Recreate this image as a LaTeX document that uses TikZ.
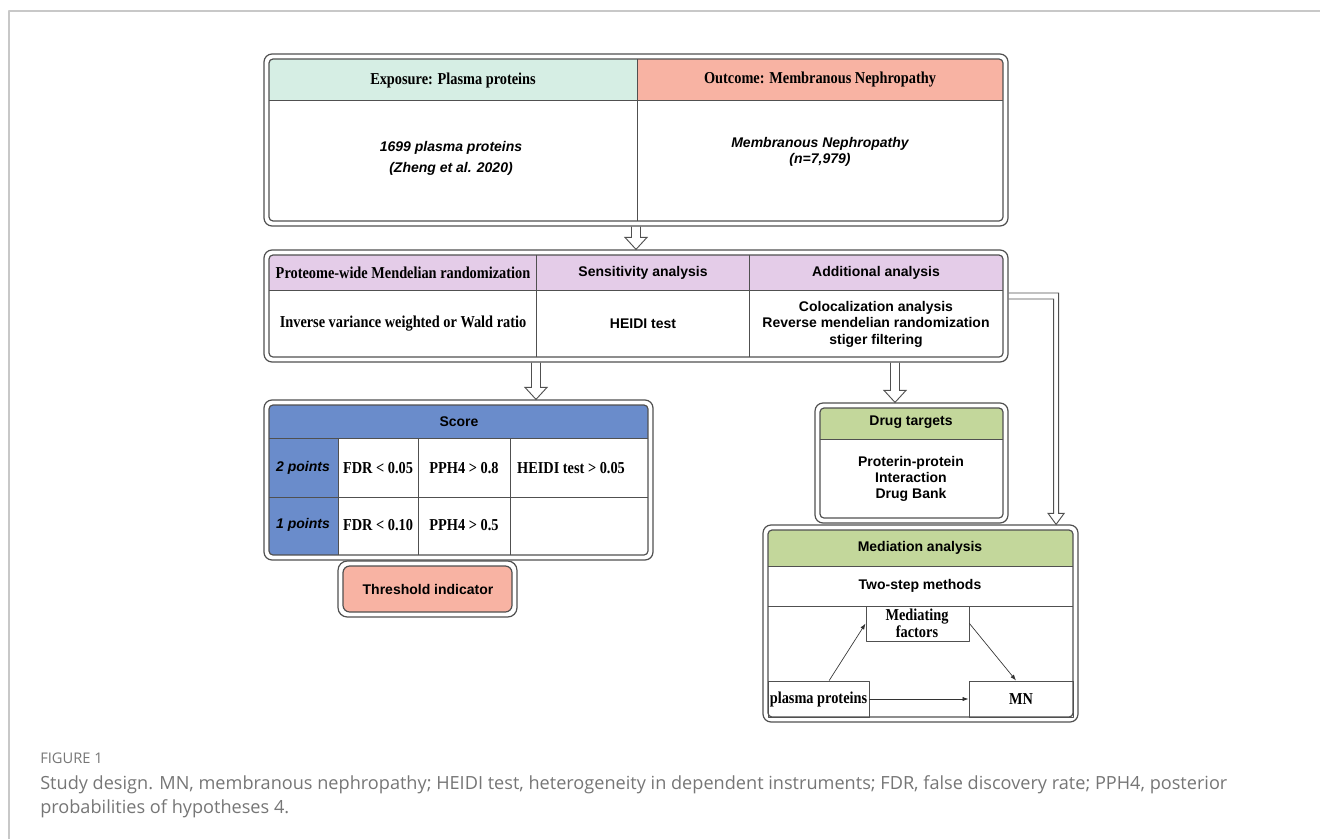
\documentclass[tikz,border=0pt]{standalone}
\usepackage{fontspec}
\setmainfont{Liberation Serif}
\setsansfont{Liberation Sans}
\newfontfamily\narrowserif[FakeStretch=0.86]{Liberation Serif}
\newfontfamily\capfont{Open Sans}
\usetikzlibrary{fit,calc,arrows.meta}
\definecolor{mint}{HTML}{D6EEE4}
\definecolor{salmon}{HTML}{F8B3A3}
\definecolor{lilac}{HTML}{E4CCE8}
\definecolor{scoreblue}{HTML}{6A8CCB}
\definecolor{olive}{HTML}{C3D79B}
\definecolor{boxline}{HTML}{505050}
\definecolor{framegrey}{HTML}{C8C8C8}
\definecolor{captext}{HTML}{767676}
\begin{document}
\begin{tikzpicture}[x=0.75pt,y=-0.75pt,>=latex,line join=bevel,
  outerbox/.style={draw=boxline,line width=0.9pt,rounded corners=6pt,inner sep=0pt},
  innerbox/.style={draw=boxline,line width=0.9pt,rounded corners=3pt,inner sep=0pt},
  grid/.style={draw=boxline,line width=0.7pt},
  plainbox/.style={draw=boxline,line width=0.7pt,inner sep=0pt},
  seriftext/.style={font=\fontsize{12.5}{14.5}\narrowserif\bfseries,align=center},
  sanstext/.style={font=\fontsize{10.5}{12.4}\selectfont\sffamily\bfseries,align=center},
  sansital/.style={font=\fontsize{10.5}{12.4}\selectfont\sffamily\bfseries\itshape,align=center},
  hollow/.style={draw=boxline,line width=0.7pt,line join=miter},
  thinarrow/.style={draw=black!80,line width=0.5pt,-{Latex[length=4.5pt,width=3.2pt]}},
]
\useasboundingbox (0,0) rectangle (1320,839);
\draw[framegrey,line width=0.9pt] (9,839) -- (9,11) -- (1320,11);
%% exposure / outcome
\begin{scope}
  \clip[rounded corners=3pt] (269,59) rectangle (1003,221);
  \fill[mint] (269,59) rectangle (637,100);
  \fill[salmon] (637,59) rectangle (1003,100);
\end{scope}
\node (top_out) [outerbox,fit={(264,54) (1008,226)}] {};
\node (top_in) [innerbox,fit={(269,59) (1003,221)}] {};
\draw[grid] (269,100) -- (1003,100) (637,59) -- (637,221);
\node (expo_head) at (453,80) [seriftext] {Exposure: Plasma proteins};
\node (outc_head) at (820,80) [seriftext] {Outcome: Membranous Nephropathy};
\node (expo_body) at (451,158) [sansital,font=\fontsize{10.5}{15.7}\selectfont\sffamily\bfseries\itshape] {1699 plasma proteins\\(Zheng et al. 2020)};
\node (outc_body) at (820,152) [sansital] {Membranous Nephropathy\\(n=7,979)};
%% methods
\begin{scope}
  \clip[rounded corners=3pt] (269,255) rectangle (1003,357);
  \fill[lilac] (269,255) rectangle (1003,290);
\end{scope}
\node (mid_out) [outerbox,fit={(264,250) (1008,362)}] {};
\node (mid_in) [innerbox,fit={(269,255) (1003,357)}] {};
\draw[grid] (269,290) -- (1003,290) (536,255) -- (536,357) (749,255) -- (749,357);
\node (mr_head) at (403,273) [seriftext] {Proteome-wide Mendelian randomization};
\node (sens_head) at (643,273) [sanstext] {Sensitivity analysis};
\node (add_head) at (876,273) [sanstext] {Additional analysis};
\node (mr_body) at (403,324) [seriftext] {Inverse variance weighted or Wald ratio};
\node (sens_body) at (643,324) [sanstext] {HEIDI test};
\node (add_body) at (876,324) [sanstext] {Colocalization analysis\\Reverse mendelian randomization\\stiger filtering};
%% score
\begin{scope}
  \clip[rounded corners=3pt] (269,405) rectangle (648,555);
  \fill[scoreblue] (269,405) rectangle (648,438);
  \fill[scoreblue] (269,438) rectangle (338,555);
\end{scope}
\node (score_out) [outerbox,fit={(264,400) (653,560)}] {};
\node (score_in) [innerbox,fit={(269,405) (648,555)}] {};
\draw[grid] (269,438) -- (648,438) (269,497) -- (648,497)
  (338,438) -- (338,555) (418,438) -- (418,555) (510,438) -- (510,555);
\node (score_head) at (459,422) [sanstext] {Score};
\node (two_pts) at (303,468) [sansital] {2 points};
\node (one_pts) at (303,525) [sansital] {1 points};
\node (fdr_two) at (378,468) [seriftext] {FDR < 0.05};
\node (pph_two) at (464,468) [seriftext] {PPH4 > 0.8};
\node (heidi_two) at (571,468) [seriftext] {HEIDI test > 0.05};
\node (fdr_one) at (378,525) [seriftext] {FDR < 0.10};
\node (pph_one) at (464,525) [seriftext] {PPH4 > 0.5};
%% threshold
\node (thr_out) [outerbox,rounded corners=7pt,fit={(338,561) (517,617)}] {};
\node (thr_in) [innerbox,rounded corners=5pt,fill=salmon,fit={(343,566) (512,612)}] {};
\node (thr_text) at (428,589) [sanstext] {Threshold indicator};
%% drug targets
\begin{scope}
  \clip[rounded corners=3pt] (820,408) rectangle (1003,518);
  \fill[olive] (820,408) rectangle (1003,439);
\end{scope}
\node (drug_out) [outerbox,fit={(815,403) (1008,523)}] {};
\node (drug_in) [innerbox,fit={(820,408) (1003,518)}] {};
\draw[grid] (820,439) -- (1003,439);
\node (drug_head) at (911,422) [sanstext] {Drug targets};
\node (drug_body) at (911,479) [sanstext,font=\fontsize{10.5}{12}\selectfont\sffamily\bfseries] {Proterin-protein\\Interaction\\Drug Bank};
%% mediation
\begin{scope}
  \clip[rounded corners=3pt] (768,530) rectangle (1073,717);
  \fill[olive] (768,530) rectangle (1073,566);
\end{scope}
\node (med_out) [outerbox,fit={(763,525) (1078,722)}] {};
\node (med_in) [innerbox,fit={(768,530) (1073,717)}] {};
\draw[grid] (768,566) -- (1073,566) (768,606) -- (1073,606);
\node (med_head) at (920,548) [sanstext] {Mediation analysis};
\node (two_step) at (920,586) [sanstext] {Two-step methods};
\node (mf_box) [plainbox,fit={(866,606) (969,641)}] {};
\node (mf_text) at (917,623) [seriftext,font=\fontsize{12.5}{13}\narrowserif\bfseries] {Mediating\\factors};
\node (pp_box) [plainbox,fit={(768,681) (869,717)}] {};
\node (pp_text) at (pp_box.center) [seriftext] {plasma proteins};
\node (mn_box) [plainbox,fit={(969,681) (1073,717)}] {};
\node (mn_text) at (mn_box.center) [seriftext] {MN};
\draw[thinarrow] (pp_box.60) -- (mf_box.west);
\draw[thinarrow] (mf_box.east) -- (mn_box.105);
\draw[thinarrow] (pp_box.east) -- (mn_box.west);
%% hollow arrows
\coordinate (a1s) at (top_out.south);
\coordinate (a1t) at (mid_out.north);
\coordinate (a2s) at ($(mid_out.south)+(-100,0)$);
\coordinate (a2t) at (a2s |- score_out.north);
\coordinate (a3s) at ($(mid_out.south)+(259,0)$);
\coordinate (a3t) at (a3s |- drug_out.north);
\foreach \s/\t in {a1s/a1t,a2s/a2t,a3s/a3t}
  \draw[hollow] ($(\s)+(-4.5,0)$) -- ($(\t)+(-4.5,-12)$) -- ($(\t)+(-11,-12)$) -- (\t)
    -- ($(\t)+(11,-12)$) -- ($(\t)+(4.5,-12)$) -- ($(\s)+(4.5,0)$);
\coordinate (a4t) at ($(med_out.north east)+(-22.5,0)$);
\draw[hollow] ($(mid_out.east)+(0,-13)$) -| ($(a4t)+(2.5,-11)$) -- ($(a4t)+(8,-11)$) -- (a4t)
  -- ($(a4t)+(-8,-11)$) -- ($(a4t)+(-2.5,-11)$) |- ($(mid_out.east)+(0,-7)$);
%% caption
\node (cap_label) at (40,758) [anchor=west,inner sep=0pt,text=captext,font=\fontsize{11}{13}\capfont] {FIGURE 1};
\node (cap_text) at (40,797) [anchor=west,inner sep=0pt,align=left,text=captext,font=\fontsize{13.6}{15.3}\capfont] {Study design. MN, membranous nephropathy; HEIDI test, heterogeneity in dependent instruments; FDR, false discovery rate; PPH4, posterior\\[2.5pt]probabilities of hypotheses 4.};
\end{tikzpicture}
\end{document}
